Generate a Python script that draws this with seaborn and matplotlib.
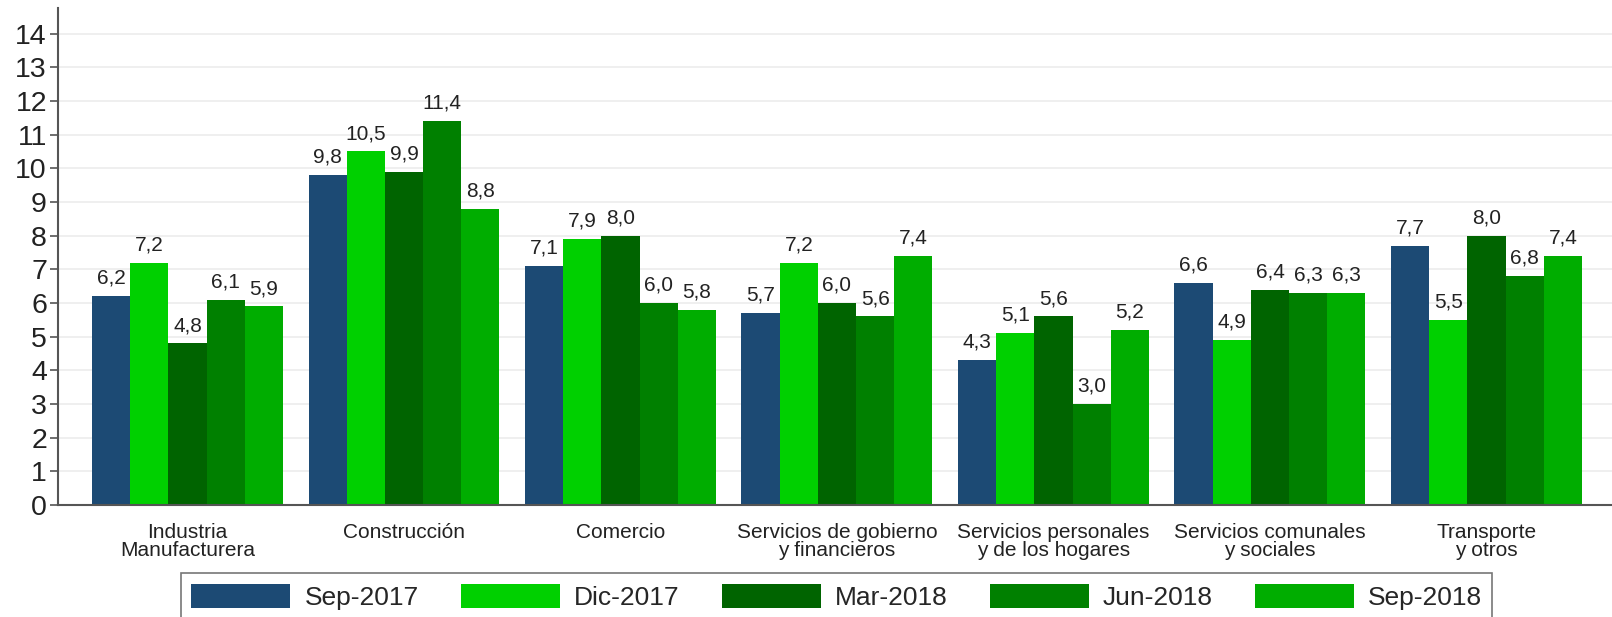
import pandas as pd
import seaborn as sns
import matplotlib
matplotlib.use("Agg")
import matplotlib.pyplot as plt

sectores = ["Industria\nManufacturera", "Construcción", "Comercio",
            "Servicios de gobierno\ny financieros", "Servicios personales\ny de los hogares",
            "Servicios comunales\ny sociales", "Transporte\ny otros"]
periodos = ["Sep-2017", "Dic-2017", "Mar-2018", "Jun-2018", "Sep-2018"]

sep_2017 = [6.2, 9.8, 7.1, 5.7, 4.3, 6.6, 7.7]
dic_2017 = [7.2, 10.5, 7.9, 7.2, 5.1, 4.9, 5.5]
mar_2018 = [4.8, 9.9, 8.0, 6.0, 5.6, 6.4, 8.0]
jun_2018 = [6.1, 11.4, 6.0, 5.6, 3.0, 6.3, 6.8]
sep_2018 = [5.9, 8.8, 5.8, 7.4, 5.2, 6.3, 7.4]

colores = ["#1c4a74", "#00d000", "#006400", "#008000", "#00ad00"]

df = pd.DataFrame({"Sector": sectores, "Sep-2017": sep_2017, "Dic-2017": dic_2017,
                   "Mar-2018": mar_2018, "Jun-2018": jun_2018, "Sep-2018": sep_2018})
df = df.melt("Sector", var_name="Periodo", value_name="Valor")

sns.set_style("white")
plt.rcParams["font.family"] = ["Liberation Sans", "DejaVu Sans"]

fig = plt.figure(figsize=(16.12, 6.17), dpi=100)
ax = fig.add_axes([0.036, 0.1815, 0.964, 0.806])

sns.barplot(data=df, x="Sector", y="Valor", hue="Periodo", hue_order=periodos,
            palette=colores, width=0.882, gap=0, saturation=1, linewidth=0,
            ax=ax, legend=True)

for cont in ax.containers:
    ax.bar_label(cont, labels=[f"{b.get_height():.1f}".replace(".", ",") for b in cont],
                 padding=6, fontsize=15, color="#222222")

ax.set_ylim(0, 14.77)
ax.set_xlim(-0.598, 6.58)
ax.set_yticks(range(0, 15))
ax.yaxis.grid(True, color="#ececec", linewidth=1.2)
ax.set_axisbelow(True)
ax.set_xlabel("")
ax.set_ylabel("")
sns.despine(ax=ax, top=True, right=True)
for s in ["left", "bottom"]:
    ax.spines[s].set_color("#555555")
    ax.spines[s].set_linewidth(1.5)
ax.tick_params(axis="y", labelsize=20.5, colors="#555555", labelcolor="#222222",
               length=6, width=1.2, left=True, direction="out", pad=2)
ax.tick_params(axis="x", labelsize=15, labelcolor="#222222", length=0, pad=13)
for t in ax.get_xticklabels():
    t.set_linespacing(0.95)

handles, labels = ax.get_legend_handles_labels()
ax.get_legend().remove()
leg = fig.legend(handles, labels, loc="upper center", bbox_to_anchor=(0.519, 0.0713),
                 ncol=5, fontsize=19, frameon=True, fancybox=False, borderaxespad=0,
                 handlelength=3.75, handleheight=1.02, handletextpad=0.53,
                 columnspacing=1.6, borderpad=0.4)
leg.get_frame().set_edgecolor("#555555")
leg.get_frame().set_linewidth(1.2)

fig.savefig("out.png", dpi=100)
